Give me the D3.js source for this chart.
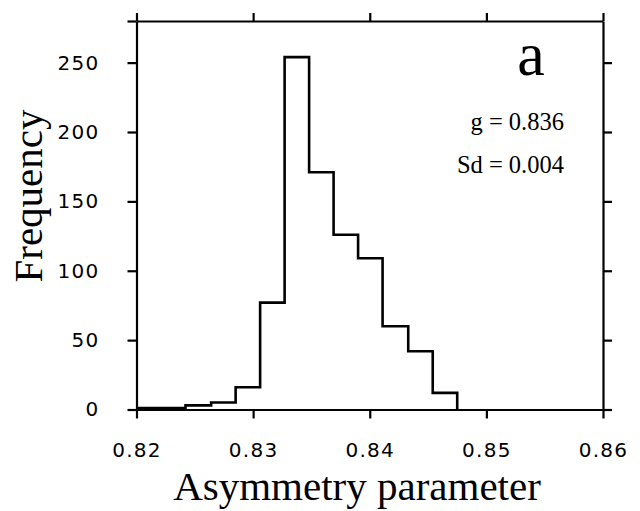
<!DOCTYPE html>
<html>
<head>
<meta charset="utf-8">
<script src="https://cdn.jsdelivr.net/npm/d3@7"></script>
<style>
  html, body { margin: 0; padding: 0; background: #fff; }
  svg { display: block; }
  .tick text { font-family: "DejaVu Sans", sans-serif; font-size: 20px; letter-spacing: 1.3px; fill: #000; }
  .serif { font-family: "Liberation Serif", "Times New Roman", serif; fill: #000; }
</style>
</head>
<body>
<svg id="chart" width="640" height="511"></svg>
<script>
// Histogram of the asymmetry parameter g
const binEdges = [0.8200, 0.8221, 0.8242, 0.8264, 0.8285, 0.8306, 0.8327,
                  0.8348, 0.8369, 0.8390, 0.8411, 0.8433, 0.8454, 0.8475];
const counts = [1, 1, 3, 5, 16, 77, 254, 171, 126, 109, 60, 42, 12];
const xTicks = [0.82, 0.83, 0.84, 0.85, 0.86];
const yTicks = [0, 50, 100, 150, 200, 250];
const statLines = ["g = 0.836", "Sd = 0.004"];
const panelLabel = "a";

const svg = d3.select("#chart");
const plotLeft = 136.5, plotRight = 603, plotTop = 21, plotBottom = 409.5;

const x = d3.scaleLinear().domain([0.82, 0.86]).range([plotLeft, plotRight]);
const y = d3.scaleLinear().domain([0, 280]).range([plotBottom, plotTop]);

// frame axes
function styleAxis(g) {
  g.selectAll(".domain").attr("stroke", "#000").attr("stroke-width", 2.2);
  g.selectAll(".tick line").attr("stroke", "#000").attr("stroke-width", 2.2);
}

svg.append("g")
  .attr("transform", `translate(0,${plotBottom})`)
  .call(d3.axisBottom(x).tickValues(xTicks).tickSize(9).tickSizeOuter(0).tickPadding(24)
        .tickFormat(d3.format(".2f")))
  .call(styleAxis);

svg.append("g")
  .attr("transform", `translate(0,${plotTop})`)
  .call(d3.axisTop(x).tickValues(xTicks).tickSize(8).tickSizeOuter(0).tickFormat(""))
  .call(styleAxis);

svg.append("g")
  .attr("transform", `translate(${plotLeft},0)`)
  .call(d3.axisLeft(y).tickValues(yTicks.concat([280])).tickSize(9).tickSizeOuter(0).tickPadding(28)
        .tickFormat(d => d === 280 ? "" : d))
  .call(styleAxis);

svg.append("g")
  .attr("transform", `translate(${plotRight},0)`)
  .call(d3.axisRight(y).tickValues(yTicks).tickSize(9).tickSizeOuter(0).tickFormat(""))
  .call(styleAxis);

// histogram outline as a step path
const pts = [];
counts.forEach((c, i) => {
  pts.push([binEdges[i], c]);
  pts.push([binEdges[i + 1], c]);
});
pts.push([binEdges[binEdges.length - 1], 0]);

svg.append("path")
  .datum(pts)
  .attr("fill", "none")
  .attr("stroke", "#000")
  .attr("stroke-width", 2.6)
  .attr("stroke-linejoin", "miter")
  .attr("d", d3.line().x(d => x(d[0])).y(d => y(d[1])));

// axis titles
svg.append("text")
  .attr("class", "serif")
  .attr("x", 357).attr("y", 500)
  .attr("text-anchor", "middle")
  .style("font-size", "41px")
  .text("Asymmetry parameter");

svg.append("text")
  .attr("class", "serif")
  .attr("transform", "translate(42,196) rotate(-90)")
  .attr("text-anchor", "middle")
  .style("font-size", "41px")
  .text("Frequency");

// panel letter and summary statistics
svg.append("text")
  .attr("class", "serif")
  .attr("x", 531).attr("y", 75)
  .attr("text-anchor", "middle")
  .style("font-size", "62px")
  .text(panelLabel);

svg.selectAll(".stat")
  .data(statLines)
  .enter().append("text")
  .attr("class", "serif stat")
  .attr("x", 564)
  .attr("y", (d, i) => 130 + i * 43)
  .attr("text-anchor", "end")
  .style("font-size", "24.5px")
  .text(d => d);
</script>
</body>
</html>
